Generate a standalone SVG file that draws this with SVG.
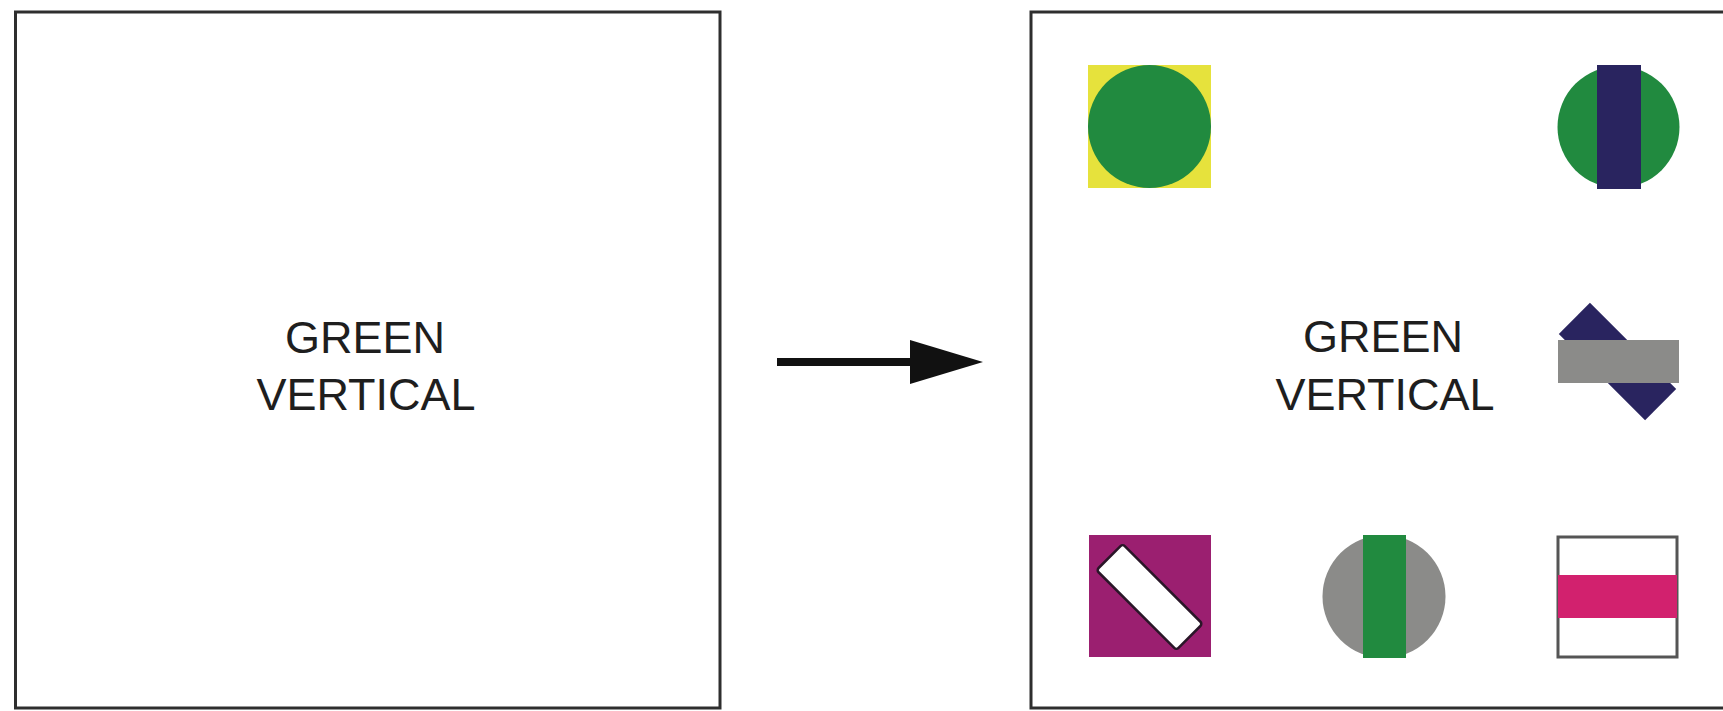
<svg xmlns="http://www.w3.org/2000/svg" width="1723" height="711" viewBox="0 0 1723 711">
  <style>
    .panel { fill: #ffffff; stroke: #2e2e2e; stroke-width: 3; }
    .label { font-family: "Liberation Sans", Arial, sans-serif; font-size: 45px; fill: #1e1e1e; text-anchor: middle; }
    .green { fill: #218a3f; }
    .navy { fill: #29245f; }
    .grey { fill: #8b8b89; }
    .yellow { fill: #e6e23c; }
    .plum { fill: #9b1f70; }
    .pink { fill: #d2216e; }
  </style>
  <defs>
    <!-- head starts where the shaft stops; tip 73px further on -->
    <marker id="head" viewBox="0 0 73 44" refX="2" refY="22" markerWidth="73" markerHeight="44" markerUnits="userSpaceOnUse" orient="auto">
      <path d="M0,0 L73,22 L0,44 Z" fill="#111111"/>
    </marker>
  </defs>

  <rect x="0" y="0" width="1723" height="711" fill="#ffffff"/>

  <!-- source panel -->
  <g id="source">
    <rect class="panel" x="15.5" y="12" width="704.5" height="696"/>
    <text class="label" x="365" y="353">GREEN</text>
    <text class="label" x="366" y="410">VERTICAL</text>
  </g>

  <!-- result panel with symbol grid -->
  <g id="result">
    <rect class="panel" x="1031" y="12" width="720" height="696"/>
    <text class="label" x="1383" y="352">GREEN</text>
    <text class="label" x="1385" y="410">VERTICAL</text>
  </g>

  <g id="icon-yellow-circle">
    <rect class="yellow" x="1088" y="65" width="123" height="123"/>
    <circle class="green" cx="1149.5" cy="126.5" r="61.5"/>
  </g>

  <g id="icon-navy-bar">
    <circle class="green" cx="1618.5" cy="127" r="61"/>
    <rect class="navy" x="1597" y="65" width="44" height="124"/>
  </g>

  <g id="icon-tilted-bar">
    <rect class="navy" x="-61" y="-22" width="122" height="44" transform="translate(1617.5 361.5) rotate(45)"/>
    <rect class="grey" x="1558" y="340" width="121" height="43"/>
  </g>

  <g id="icon-diagonal">
    <rect class="plum" x="1089" y="535" width="122" height="122"/>
    <rect x="-56.5" y="-18.5" width="113" height="37" rx="3" fill="#ffffff" stroke="#2a1628" stroke-width="2.5" transform="translate(1149.5 597) rotate(45)"/>
  </g>

  <g id="icon-grey-circle">
    <circle class="grey" cx="1384" cy="596.5" r="61.5"/>
    <rect class="green" x="1363" y="535" width="43" height="123"/>
  </g>

  <g id="icon-band">
    <rect x="1558" y="537" width="119" height="120" fill="#ffffff" stroke="#555555" stroke-width="3"/>
    <rect class="pink" x="1558" y="575" width="119" height="43"/>
  </g>

  <!-- connector -->
  <g id="connectors">
    <line x1="777" y1="362" x2="912" y2="362" stroke="#111111" stroke-width="8" marker-end="url(#head)"/>
  </g>
</svg>
